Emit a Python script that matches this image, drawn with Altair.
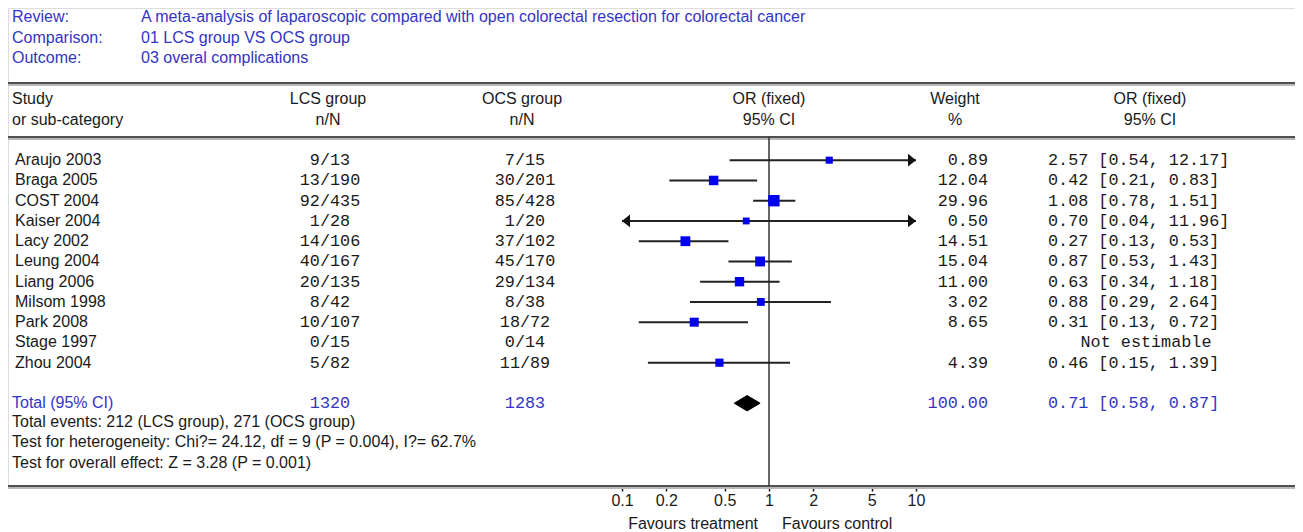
import altair as alt
import pandas as pd

# ---------------- data ----------------
title_keys = ["Review:", "Comparison:", "Outcome:"]
title_vals = ["A meta-analysis of laparoscopic compared with open colorectal resection for colorectal cancer",
              "01 LCS group VS OCS group",
              "03 overal complications"]

studies = ["Araujo 2003", "Braga 2005", "COST 2004", "Kaiser 2004", "Lacy 2002", "Leung 2004",
           "Liang 2006", "Milsom 1998", "Park 2008", "Stage 1997", "Zhou 2004"]
lcs_nN = ["9/13", "13/190", "92/435", "1/28", "14/106", "40/167", "20/135", "8/42", "10/107", "0/15", "5/82"]
ocs_nN = ["7/15", "30/201", "85/428", "1/20", "37/102", "45/170", "29/134", "8/38", "18/72", "0/14", "11/89"]
weights = [0.89, 12.04, 29.96, 0.50, 14.51, 15.04, 11.00, 3.02, 8.65, None, 4.39]
or_est = [2.57, 0.42, 1.08, 0.70, 0.27, 0.87, 0.63, 0.88, 0.31, None, 0.46]
ci_lo = [0.54, 0.21, 0.78, 0.04, 0.13, 0.53, 0.34, 0.29, 0.13, None, 0.15]
ci_hi = [12.17, 0.83, 1.51, 11.96, 0.53, 1.43, 1.18, 2.64, 0.72, None, 1.39]

total_label = "Total (95% CI)"
total_lcs = "1320"
total_ocs = "1283"
total_weight = 100.00
total_or, total_lo, total_hi = 0.71, 0.58, 0.87

footnotes = ["Total events: 212 (LCS group), 271 (OCS group)",
             "Test for heterogeneity: Chi?= 24.12, df = 9 (P = 0.004), I?= 62.7%",
             "Test for overall effect: Z = 3.28 (P = 0.001)"]

tick_values = [0.1, 0.2, 0.5, 1, 2, 5, 10]
plot_min, plot_max = 0.1, 10
favours = ["Favours treatment", "Favours control"]

# ---------------- layout constants ----------------
W, H = 1287, 478
X_ONE = 761.0      # pixel of OR = 1
PPD = 147.0        # pixels per decade
ROW0, STEP = 152.2, 20.25
TOTAL_ROW = 12.0
DIAMOND_HALF = 0.38   # half height of the diamond, in rows

SANS = "Liberation Sans"
MONO = "Liberation Mono"
BLUE = "#3434c4"
INK = "#1a1a1a"
FS = 16
MFS = 16.8

xscale = alt.Scale(type="log", domain=[10 ** (-X_ONE / PPD), 10 ** ((W - X_ONE) / PPD)],
                   range=[0, W], nice=False, zero=False)
yscale = alt.Scale(domain=[-ROW0 / STEP, (H - ROW0) / STEP], reverse=True, nice=False, zero=False)
xaxis = alt.Axis(values=tick_values, labelExpr="datum.value", domain=False, grid=False,
                 ticks=True, tickSize=5, tickColor="#111", tickWidth=1.5,
                 labelFont=SANS, labelFontSize=FS, labelColor=INK, labelPadding=1, title=None)


def X(f):
    return alt.X(f, scale=xscale, axis=xaxis, title=None)


def Y(f):
    return alt.Y(f, scale=yscale, axis=None)


df = pd.DataFrame({
    "row": list(range(len(studies))),
    "study": studies, "lcs": lcs_nN, "ocs": ocs_nN,
    "weight": weights, "or_est": or_est, "lo": ci_lo, "hi": ci_hi,
})
df["w_txt"] = [f"{w:.2f}" if w is not None and w == w else "" for w in weights]
df["or_txt"] = [f"{o:.2f} [{l:.2f}, {h:.2f}]" if o is not None else "" for o, l, h in zip(or_est, ci_lo, ci_hi)]
df["ne_txt"] = ["Not estimable" if o is None else "" for o in or_est]

base = alt.Chart(df)
valid = "isValid(datum.or_est) && datum.or_est > 0"

one = pd.DataFrame({"a": [0]})


def txt(s, x, y, align="left", font=SANS, size=FS, color=INK):
    return alt.Chart(one).mark_text(text=s, align=align, baseline="middle", font=font,
                                    fontSize=size, color=color).encode(x=alt.value(x), y=alt.value(y))


def hrule(y, color, w):
    return alt.Chart(one).mark_rule(color=color, strokeWidth=w).encode(
        x=alt.value(0), x2=alt.value(W), y=alt.value(y))


layers = []

# title block
for i, (k, v) in enumerate(zip(title_keys, title_vals)):
    layers.append(txt(k, 4, 9 + 20.5 * i, color=BLUE))
    layers.append(txt(v, 133, 9 + 20.5 * i, color=BLUE))

# horizontal rules
for y in [75, 129, H]:
    layers.append(hrule(y + 2, "#b8b8b8", 2))
    layers.append(hrule(y, "#505050", 2))

# header
hdr_y1, hdr_y2 = 91, 112
layers += [
    txt("Study", 4, hdr_y1), txt("or sub-category", 4, hdr_y2),
    txt("LCS group", 320, hdr_y1, "center"), txt("n/N", 320, hdr_y2, "center"),
    txt("OCS group", 514, hdr_y1, "center"), txt("n/N", 514, hdr_y2, "center"),
    txt("OR (fixed)", X_ONE, hdr_y1, "center"), txt("95% CI", X_ONE, hdr_y2, "center"),
    txt("Weight", 947, hdr_y1, "center"), txt("%", 947, hdr_y2, "center"),
    txt("OR (fixed)", 1142, hdr_y1, "center"), txt("95% CI", 1142, hdr_y2, "center"),
]

# vertical line at OR = 1
layers.append(alt.Chart(one).mark_rule(color="#333", strokeWidth=1.5).encode(
    x=X("v:Q"), y=alt.value(129), y2=alt.value(H)).transform_calculate(v="1"))

# CI lines (clipped to the plotted range)
layers.append(base.transform_filter(valid).transform_calculate(
    lo_c=f"max(datum.lo, {plot_min})", hi_c=f"min(datum.hi, {plot_max})"
).mark_rule(color="#222", strokeWidth=2).encode(x=X("lo_c:Q"), x2="hi_c:Q", y=Y("row:Q")))

# arrows for clipped CIs
layers.append(base.transform_filter(valid + f" && datum.hi > {plot_max}").transform_calculate(
    ax=f"{plot_max}").mark_point(shape="M0,0L-1,-0.8L-1,0.8Z", filled=True, size=256,
                                 color="#111", opacity=1, strokeWidth=0).encode(x=X("ax:Q"), y=Y("row:Q")))
layers.append(base.transform_filter(valid + f" && datum.lo < {plot_min}").transform_calculate(
    ax=f"{plot_min}").mark_point(shape="M0,0L1,-0.8L1,0.8Z", filled=True, size=256,
                                 color="#111", opacity=1, strokeWidth=0).encode(x=X("ax:Q"), y=Y("row:Q")))

# squares sized by weight
layers.append(base.transform_filter(valid).transform_calculate(
    sz="pow(6.2 + 0.95 * sqrt(datum.weight), 2)"
).mark_square(color="#0000ee", opacity=1, filled=True).encode(
    x=X("or_est:Q"), y=Y("row:Q"), size=alt.Size("sz:Q", scale=None)))

# diamond for the total: closed filled line through lo, top, hi, bottom
dia = pd.DataFrame({"dv": [total_lo, total_or, total_hi, total_or, total_lo],
                    "ord": [0, 1, 2, 3, 4],
                    "dy": [0, -1, 0, 1, 0]})
layers.append(alt.Chart(dia).transform_calculate(
    dr=f"{TOTAL_ROW} + datum.dy * {DIAMOND_HALF}"
).mark_line(fill="#000", stroke="#000", strokeWidth=1, interpolate="linear").encode(
    x=X("dv:Q"), y=Y("dr:Q"), order="ord:Q"))

# text columns
layers.append(base.mark_text(align="left", baseline="middle", font=SANS, fontSize=FS, color=INK)
              .encode(x=alt.value(7), y=Y("row:Q"), text="study:N"))
layers.append(base.mark_text(align="center", baseline="middle", font=MONO, fontSize=MFS, color=INK)
              .encode(x=alt.value(322), y=Y("row:Q"), text="lcs:N"))
layers.append(base.mark_text(align="center", baseline="middle", font=MONO, fontSize=MFS, color=INK)
              .encode(x=alt.value(517), y=Y("row:Q"), text="ocs:N"))
layers.append(base.mark_text(align="right", baseline="middle", font=MONO, fontSize=MFS, color=INK)
              .encode(x=alt.value(980), y=Y("row:Q"), text="w_txt:N"))
layers.append(base.mark_text(align="left", baseline="middle", font=MONO, fontSize=MFS, color=INK)
              .encode(x=alt.value(1040), y=Y("row:Q"), text="or_txt:N"))
layers.append(base.mark_text(align="center", baseline="middle", font=MONO, fontSize=MFS, color=INK)
              .encode(x=alt.value(1138), y=Y("row:Q"), text="ne_txt:N"))

# total row
tot = pd.DataFrame({"row": [TOTAL_ROW], "label": [total_label], "lcs": [total_lcs], "ocs": [total_ocs],
                    "w": [f"{total_weight:.2f}"],
                    "ort": [f"{total_or:.2f} [{total_lo:.2f}, {total_hi:.2f}]"]})
tb = alt.Chart(tot)
layers.append(tb.mark_text(align="left", baseline="middle", font=SANS, fontSize=FS, color=BLUE)
              .encode(x=alt.value(4), y=Y("row:Q"), text="label:N"))
layers.append(tb.mark_text(align="center", baseline="middle", font=MONO, fontSize=MFS, color=BLUE)
              .encode(x=alt.value(322), y=Y("row:Q"), text="lcs:N"))
layers.append(tb.mark_text(align="center", baseline="middle", font=MONO, fontSize=MFS, color=BLUE)
              .encode(x=alt.value(517), y=Y("row:Q"), text="ocs:N"))
layers.append(tb.mark_text(align="right", baseline="middle", font=MONO, fontSize=MFS, color=BLUE)
              .encode(x=alt.value(980), y=Y("row:Q"), text="w:N"))
layers.append(tb.mark_text(align="left", baseline="middle", font=MONO, fontSize=MFS, color=BLUE)
              .encode(x=alt.value(1040), y=Y("row:Q"), text="ort:N"))

# footnotes
for i, s in enumerate(footnotes):
    layers.append(txt(s, 4, [414, 434, 455][i]))

# favours labels
fav = pd.DataFrame({"v": [1, 1], "t": favours})
layers.append(alt.Chart(fav).transform_filter("datum.t == '%s'" % favours[0]).mark_text(
    align="right", baseline="middle", font=SANS, fontSize=FS, color=INK, dx=-11)
    .encode(x=X("v:Q"), y=alt.value(516), text="t:N"))
layers.append(alt.Chart(fav).transform_filter("datum.t == '%s'" % favours[1]).mark_text(
    align="left", baseline="middle", font=SANS, fontSize=FS, color=INK, dx=13)
    .encode(x=X("v:Q"), y=alt.value(516), text="t:N"))

chart = alt.layer(*layers).properties(
    width=W, height=H, autosize="none",
    padding={"left": 0, "top": 0, "right": 0, "bottom": 48},
).configure_view(stroke=None).configure(background="white")

chart.save("out.html", embed_options={"renderer": "svg", "actions": False})
